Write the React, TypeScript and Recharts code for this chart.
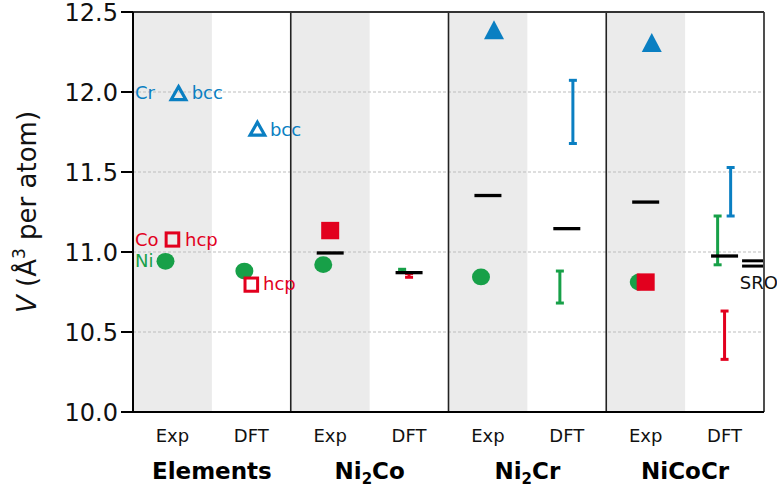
import React from 'react';
import {
  ComposedChart,
  Scatter,
  XAxis,
  YAxis,
  ReferenceArea,
  ReferenceLine,
  ErrorBar,
  Label,
} from 'recharts';

const FONT = '"DejaVu Sans", "Liberation Sans", Arial, sans-serif';
const BLUE = '#0a7fc2';
const RED = '#e2001e';
const GREEN = '#17a048';
const BAND = '#ebebeb';

// categories
const slotLabels = ['Exp', 'DFT', 'Exp', 'DFT', 'Exp', 'DFT', 'Exp', 'DFT'];
const groupLabels = ['Elements', 'Ni2Co', 'Ni2Cr', 'NiCoCr'];
const yTicks = [10, 10.5, 11, 11.5, 12, 12.5];
const gridValues = [10.5, 11, 11.5, 12];

// single-valued points per slot (null = none)
const niValues = [10.942, 10.881, 10.921, null, 10.844, null, 10.812, null];
const coValues = [11.078, 10.796, 11.134, null, null, null, 10.812, null];
const crValues = [11.994, 11.772, null, null, 12.389, null, 12.309, null];

// average lines per slot
const meanValues = [null, null, 10.994, 10.871, 11.353, 11.146, 11.312, 10.975];

// DFT ranges per slot (low / high)
const niLow = [null, null, null, 10.876, null, 10.681, null, 10.92];
const niHigh = [null, null, null, 10.892, null, 10.881, null, 11.225];
const coLow = [null, null, null, 10.842, null, null, null, 10.329];
const coHigh = [null, null, null, 10.866, null, null, null, 10.631];
const crLow = [null, null, null, null, null, 11.678, null, 11.225];
const crHigh = [null, null, null, null, null, 12.073, null, 11.528];

// short-range-order values (NiCoCr DFT)
const sroSlot = 7;
const sroValues = [10.945, 10.912];

// text annotations (data coordinates)
const annotations = [
  { x: 0.025, y: 11.994, text: 'Cr', color: BLUE },
  { x: 0.744, y: 11.994, text: 'bcc', color: BLUE },
  { x: 1.736, y: 11.765, text: 'bcc', color: BLUE },
  { x: 0.025, y: 11.08, text: 'Co', color: RED },
  { x: 0.659, y: 11.08, text: 'hcp', color: RED },
  { x: 0.025, y: 10.946, text: 'Ni', color: GREEN },
  { x: 1.648, y: 10.806, text: 'hcp', color: RED },
  { x: 7.693, y: 10.808, text: 'SRO', color: '#111' },
];

// horizontal dodge of species inside a slot
const OFF_NI = -0.088;
const OFF_CO = 0.0;
const OFF_CR = 0.077;
const OFF_SRO = 0.355;

const pointData = (vals: (number | null)[], off: number) =>
  vals
    .map((v, i) => (v == null ? null : { x: i + 0.5 + off, y: v, open: i < 2 }))
    .filter(Boolean) as { x: number; y: number; open: boolean }[];

const rangeData = (lo: (number | null)[], hi: (number | null)[], off: number) =>
  lo
    .map((l, i) => {
      const h = hi[i];
      if (l == null || h == null) return null;
      return { x: i + 0.5 + off, y: (l + h) / 2, err: (h - l) / 2 };
    })
    .filter(Boolean) as { x: number; y: number; err: number }[];

const niPts = pointData(niValues, OFF_NI);
const coPts = pointData(coValues, OFF_CO);
const crPts = pointData(crValues, OFF_CR);
const meanPts = pointData(meanValues, 0);
const niRng = rangeData(niLow, niHigh, OFF_NI);
const coRng = rangeData(coLow, coHigh, OFF_CO);
const crRng = rangeData(crLow, crHigh, OFF_CR);
const sroPts = sroValues.map((v) => ({ x: sroSlot + 0.5 + OFF_SRO, y: v }));

const slotTicks = slotLabels.map((_, i) => i + 0.5);
const groupTicks = groupLabels.map((_, i) => i * 2 + 1);
const groupAnchors = groupTicks.map((g) => ({ x: g, y: 10 }));
const bandSlots = slotLabels.map((l, i) => (l === 'Exp' ? i : -1)).filter((i) => i >= 0);
const dividers = groupLabels.map((_, i) => (i + 1) * 2);

const Circle = (p: any) => <ellipse cx={p.cx} cy={p.cy} rx={9} ry={8.4} fill={GREEN} />;

const Square = (p: any) =>
  p.payload && p.payload.open ? (
    <rect x={p.cx - 6.3} y={p.cy - 6.6} width={12.6} height={13.2} fill="none" stroke={RED} strokeWidth={3} />
  ) : (
    <rect x={p.cx - 9} y={p.cy - 8.7} width={18} height={17.4} fill={RED} />
  );

const Triangle = (p: any) => {
  const { cx, cy } = p;
  if (p.payload && p.payload.open) {
    const pts = `${cx},${cy - 6.3} ${cx + 7.3},${cy + 6.6} ${cx - 7.3},${cy + 6.6}`;
    return <polygon points={pts} fill="none" stroke={BLUE} strokeWidth={3.2} strokeLinejoin="miter" />;
  }
  const pts = `${cx},${cy - 9.5} ${cx + 10},${cy + 9.5} ${cx - 10},${cy + 9.5}`;
  return <polygon points={pts} fill={BLUE} />;
};

const MeanLine = (p: any) => (
  <line x1={p.cx - 13.5} x2={p.cx + 13.5} y1={p.cy} y2={p.cy} stroke="#000" strokeWidth={3.3} />
);

const SroLine = (p: any) => (
  <line x1={p.cx - 10.5} x2={p.cx + 10.5} y1={p.cy} y2={p.cy} stroke="#000" strokeWidth={3} />
);

const Nothing = () => <g />;

const TextShape = (p: any) => (
  <text
    x={p.cx}
    y={p.cy}
    dominantBaseline="central"
    textAnchor="start"
    fontSize={18}
    fontFamily={FONT}
    fill={p.payload.color}
  >
    {p.payload.text}
  </text>
);

const SlotTick = (p: any) => {
  const idx = Math.floor(p.payload.value);
  return (
    <text x={p.x} y={p.y + 30} textAnchor="middle" fontSize={18} fontFamily={FONT} fill="#111">
      {slotLabels[idx]}
    </text>
  );
};

const GroupTick = (p: any) => {
  const idx = Math.round((p.payload.value - 1) / 2);
  const label = groupLabels[idx] || '';
  const parts = label.split(/(\d+)/).filter((s) => s.length > 0);
  let prevSub = false;
  return (
    <text
      x={p.x}
      y={p.y + 27}
      textAnchor="middle"
      fontSize={23}
      fontWeight="bold"
      fontFamily={FONT}
      fill="#000"
    >
      {parts.map((s, i) => {
        const isSub = /^\d+$/.test(s);
        const dy = isSub ? 4.5 : prevSub ? -4.5 : 0;
        prevSub = isSub;
        return (
          <tspan key={i} dy={dy} fontSize={isSub ? 15 : 23}>
            {s}
          </tspan>
        );
      })}
    </text>
  );
};

const YTitle = (props: any) => {
  const vb = props.viewBox || { x: 0, y: 12, width: 133, height: 400 };
  const cx = 36;
  const cy = vb.y + vb.height / 2;
  return (
    <text
      x={cx}
      y={cy}
      transform={`rotate(-90 ${cx} ${cy})`}
      textAnchor="middle"
      fontSize={26}
      fontFamily={FONT}
      fill="#111"
    >
      <tspan fontStyle="italic">V</tspan>
      <tspan> (Å</tspan>
      <tspan fontSize={17} dy={-11}>
        3
      </tspan>
      <tspan dy={11}> per atom)</tspan>
    </text>
  );
};

export default function App() {
  return (
    <div style={{ position: 'absolute', left: 0, top: 0, width: 777, height: 486, background: '#fff' }}>
      <ComposedChart width={777} height={486} margin={{ top: 12, right: 13, bottom: 0, left: 0 }}>
        <XAxis
          xAxisId={0}
          type="number"
          dataKey="x"
          domain={[0, 8]}
          ticks={slotTicks}
          interval={0}
          height={40}
          tickSize={0}
          tickMargin={0}
          tickLine={false}
          axisLine={{ stroke: '#000', strokeWidth: 2 }}
          tick={<SlotTick />}
        />
        <XAxis
          xAxisId="grp"
          type="number"
          dataKey="x"
          domain={[0, 8]}
          ticks={groupTicks}
          interval={0}
          height={34}
          tickSize={0}
          tickMargin={0}
          tickLine={false}
          axisLine={false}
          tick={<GroupTick />}
        />
        <YAxis
          type="number"
          dataKey="y"
          domain={[10, 12.5]}
          ticks={yTicks}
          interval={0}
          width={133}
          tickSize={12}
          tickMargin={3}
          tickFormatter={(v: number) => v.toFixed(1)}
          tickLine={{ stroke: '#000', strokeWidth: 2 }}
          axisLine={{ stroke: '#000', strokeWidth: 2 }}
          tick={{ fontSize: 24, fontFamily: FONT, fill: '#111' }}
        >
          <Label content={<YTitle />} />
        </YAxis>

        {bandSlots.map((s) => (
          <ReferenceArea key={'band' + s} x1={s} x2={s + 1} y1={10} y2={12.5} fill={BAND} fillOpacity={1} stroke="none" />
        ))}
        {gridValues.map((g) => (
          <ReferenceLine key={'grid' + g} y={g} stroke="#bdbdbd" strokeWidth={1} strokeDasharray="3 2" />
        ))}
        {dividers.map((d) => (
          <ReferenceLine key={'div' + d} x={d} stroke="#222" strokeWidth={1.6} />
        ))}
        <ReferenceLine y={12.5} stroke="#333" strokeWidth={1.8} />

        <Scatter xAxisId="grp" data={groupAnchors} shape={<Nothing />} isAnimationActive={false} />

        <Scatter data={niRng} shape={<Nothing />} isAnimationActive={false}>
          <ErrorBar dataKey="err" direction="y" width={4} strokeWidth={3} stroke={GREEN} isAnimationActive={false} />
        </Scatter>
        <Scatter data={coRng} shape={<Nothing />} isAnimationActive={false}>
          <ErrorBar dataKey="err" direction="y" width={4} strokeWidth={3} stroke={RED} isAnimationActive={false} />
        </Scatter>
        <Scatter data={crRng} shape={<Nothing />} isAnimationActive={false}>
          <ErrorBar dataKey="err" direction="y" width={4} strokeWidth={3} stroke={BLUE} isAnimationActive={false} />
        </Scatter>

        <Scatter data={niPts} shape={<Circle />} isAnimationActive={false} />
        <Scatter data={coPts} shape={<Square />} isAnimationActive={false} />
        <Scatter data={crPts} shape={<Triangle />} isAnimationActive={false} />
        <Scatter data={meanPts} shape={<MeanLine />} isAnimationActive={false} />
        <Scatter data={sroPts} shape={<SroLine />} isAnimationActive={false} />
        <Scatter data={annotations} shape={<TextShape />} isAnimationActive={false} />
      </ComposedChart>
    </div>
  );
}
